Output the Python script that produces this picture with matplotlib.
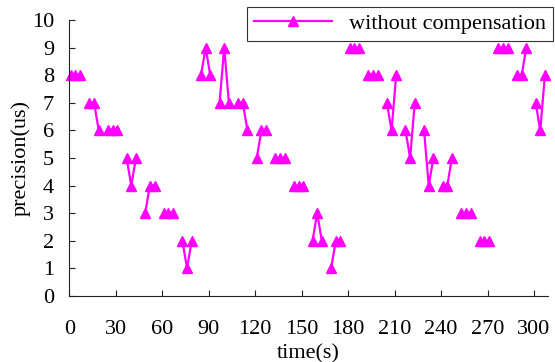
import numpy as np
import matplotlib
matplotlib.use("Agg")
import matplotlib.pyplot as plt

# sample times (s), three samples per measurement burst
times = [
    [1, 4, 7], [13, 16, 19], [25, 28, 31], [37, 40, 43], [49, 52, 55],
    [61, 64, 67], [73, 76, 79], [85, 88, 91], [97, 100, 103], [109, 112, 115],
    [121, 124, 127], [133, 136, 139], [145, 148, 151], [157, 160, 163],
    [169, 172, 175], [181, 184, 187], [193, 196, 199], [205, 208, 211],
    [217, 220, 223], [229, 232, 235], [241, 244, 247], [253, 256, 259],
    [265, 268, 271], [277, 280, 283], [289, 292, 295], [301, 304, 307],
]
# precision (us) without compensation
precision = [
    [8, 8, 8], [7, 7, 6], [6, 6, 6], [5, 4, 5], [3, 4, 4],
    [3, 3, 3], [2, 1, 2], [8, 9, 8], [7, 9, 7], [7, 7, 6],
    [5, 6, 6], [5, 5, 5], [4, 4, 4], [2, 3, 2],
    [1, 2, 2], [9, 9, 9], [8, 8, 8], [7, 6, 8],
    [6, 5, 7], [6, 4, 5], [4, 4, 5], [3, 3, 3],
    [2, 2, 2], [9, 9, 9], [8, 8, 9], [7, 6, 8],
]
xticks = [0, 30, 60, 90, 120, 150, 180, 210, 240, 270, 300]
yticks = list(range(0, 11))

plt.rcParams['font.family'] = ['Liberation Serif', 'DejaVu Serif']
plt.rcParams['font.size'] = 16

fig = plt.figure(figsize=(5.55, 3.62), dpi=100)
ax = fig.add_axes([69.3 / 555, 1 - 296 / 362, (548 - 69.3) / 555, (296 - 20) / 362])

# each burst is its own segment, gaps between bursts
for i, (t, p) in enumerate(zip(times, precision)):
    ax.plot(t, p, color='#FF00FF', lw=1.6, marker='^', ms=6.5,
            clip_on=False, label='without compensation' if i == 0 else None)

ax.set_xlim(0, 309)
ax.set_ylim(0, 10)
ax.set_xticks(xticks)
ax.set_yticks(yticks)
ax.tick_params(direction='in', length=4, width=0.8, colors='#222222', labelcolor='black')
ax.tick_params(axis='x', pad=17)
ax.tick_params(axis='y', pad=11)
for s in ['top', 'right']:
    ax.spines[s].set_visible(False)
for s in ['left', 'bottom']:
    ax.spines[s].set_color('#222222')

ax.set_xlabel('time(s)', labelpad=4)
ax.set_ylabel('precision(us)', labelpad=1)

leg = ax.legend(loc='upper right', bbox_to_anchor=(553 / 555, 1 - 7 / 362),
                bbox_transform=fig.transFigure, fancybox=False, framealpha=1,
                edgecolor='#333333', borderpad=0.3, handlelength=3.5,
                handletextpad=0.8, borderaxespad=0)
leg.get_frame().set_linewidth(0.8)

fig.savefig('out.png', dpi=100)
